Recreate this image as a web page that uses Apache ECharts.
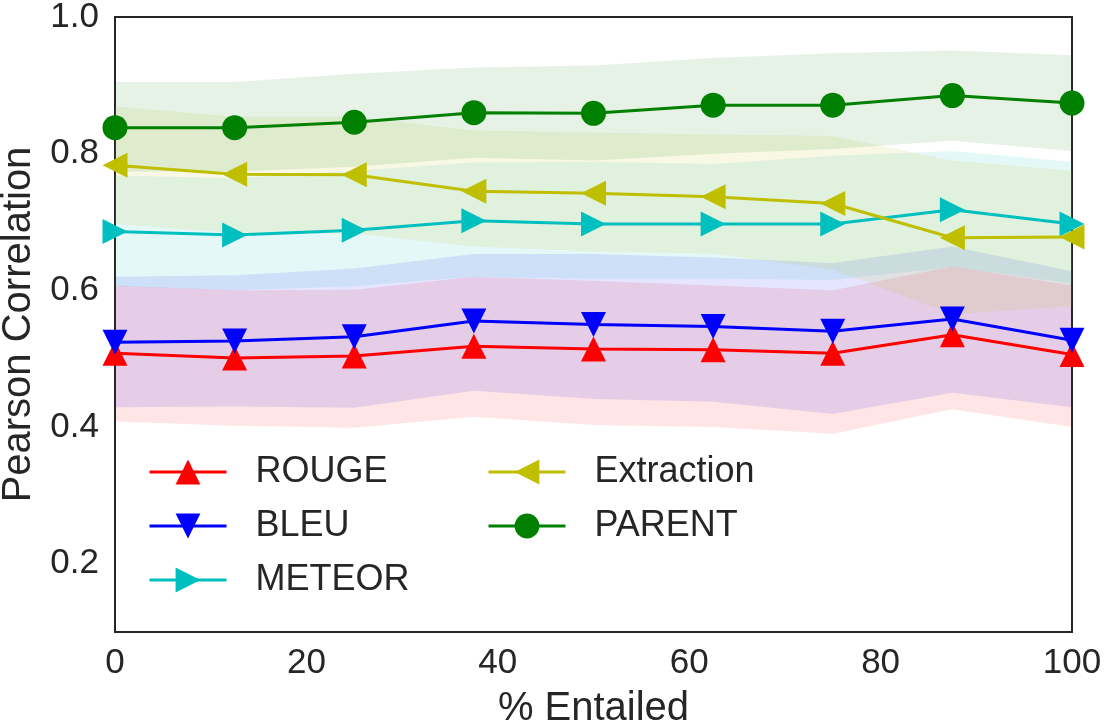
<!DOCTYPE html>
<html>
<head>
<meta charset="utf-8">
<script src="https://cdn.jsdelivr.net/npm/echarts@6/dist/echarts.min.js"></script>
<style>
  html, body { margin: 0; padding: 0; background: #fff; }
  #chart { width: 1112px; height: 726px; }
</style>
</head>
<body>
<div id="chart"></div>
<script>
// % entailed (x positions)
const xs = [0, 12.5, 25, 37.5, 50, 62.5, 75, 87.5, 100];

// mean correlation and the shaded band (upper / lower) per metric
const rouge = [0.508, 0.501, 0.504, 0.518, 0.514, 0.513, 0.508, 0.535, 0.506];
const rougeHi = [0.607, 0.600, 0.601, 0.620, 0.614, 0.607, 0.600, 0.635, 0.607];
const rougeLo = [0.408, 0.402, 0.399, 0.415, 0.403, 0.400, 0.390, 0.426, 0.400];

const bleu = [0.524, 0.526, 0.532, 0.555, 0.550, 0.547, 0.540, 0.558, 0.527];
const bleuHi = [0.620, 0.622, 0.632, 0.653, 0.653, 0.648, 0.640, 0.664, 0.628];
const bleuLo = [0.429, 0.430, 0.428, 0.453, 0.441, 0.437, 0.419, 0.450, 0.429];

const meteor = [0.686, 0.681, 0.688, 0.702, 0.697, 0.697, 0.697, 0.718, 0.697];
const meteorHi = [0.768, 0.764, 0.775, 0.787, 0.788, 0.785, 0.797, 0.804, 0.788];
const meteorLo = [0.606, 0.600, 0.606, 0.620, 0.617, 0.617, 0.615, 0.634, 0.610];

const extraction = [0.783, 0.770, 0.769, 0.745, 0.742, 0.737, 0.727, 0.677, 0.678];
const extractionHi = [0.869, 0.854, 0.854, 0.834, 0.831, 0.828, 0.826, 0.790, 0.775];
const extractionLo = [0.697, 0.684, 0.683, 0.664, 0.657, 0.654, 0.630, 0.565, 0.577];

const parent = [0.838, 0.838, 0.846, 0.860, 0.859, 0.871, 0.871, 0.885, 0.874];
const parentHi = [0.905, 0.905, 0.917, 0.926, 0.929, 0.940, 0.947, 0.951, 0.944];
const parentLo = [0.774, 0.774, 0.781, 0.794, 0.790, 0.800, 0.807, 0.819, 0.804];

const font = "'Liberation Sans', Arial, sans-serif";
const textColor = "#262626";

const metrics = [
  { name: "ROUGE", color: "#ff0000", fill: "rgba(255,0,0,0.1)", mean: rouge, hi: rougeHi, lo: rougeLo, symbol: "triangle", rotate: 0, size: 25 },
  { name: "BLEU", color: "#0000ff", fill: "rgba(0,0,255,0.1)", mean: bleu, hi: bleuHi, lo: bleuLo, symbol: "triangle", rotate: 180, size: 25 },
  { name: "METEOR", color: "#00bfbf", fill: "rgba(0,191,191,0.1)", mean: meteor, hi: meteorHi, lo: meteorLo, symbol: "triangle", rotate: -90, size: 25 },
  { name: "Extraction", color: "#bfbf00", fill: "rgba(191,191,0,0.1)", mean: extraction, hi: extractionHi, lo: extractionLo, symbol: "triangle", rotate: 90, size: 25 },
  { name: "PARENT", color: "#008000", fill: "rgba(0,128,0,0.1)", mean: parent, hi: parentHi, lo: parentLo, symbol: "circle", rotate: 0, size: 25 }
];

const bandSeries = metrics.map(m => ({
  type: "custom",
  silent: true,
  z: 1,
  data: [[0, 0]],
  renderItem: (params, api) => {
    const top = xs.map((x, i) => api.coord([x, m.hi[i]]));
    const bottom = xs.map((x, i) => api.coord([x, m.lo[i]])).reverse();
    return {
      type: "polygon",
      shape: { points: top.concat(bottom) },
      style: { fill: m.fill }
    };
  }
}));

const lineSeries = metrics.map((m, k) => ({
  name: m.name,
  type: "line",
  z: 3 + k,
  data: xs.map((x, i) => [x, m.mean[i]]),
  symbol: m.symbol,
  symbolSize: m.size,
  symbolRotate: m.rotate,
  showSymbol: true,
  lineStyle: { color: m.color, width: 3 },
  itemStyle: { color: m.color },
  emphasis: { disabled: true }
}));

const legendBase = {
  orient: "vertical",
  top: 454,
  padding: 0,
  itemWidth: 77,
  itemHeight: 31,
  itemGap: 18,
  lineStyle: { width: 3 },
  textStyle: { fontSize: 36, color: textColor, fontFamily: font, lineHeight: 36, padding: [0, 0, 0, 24] }
};

const chart = echarts.init(document.getElementById("chart"));
chart.setOption({
  animation: false,
  backgroundColor: "#fff",
  grid: {
    left: 115,
    right: 40,
    top: 17,
    bottom: 94,
    outerBoundsMode: "none",
    containLabel: false,
    show: true,
    borderColor: "#262626",
    borderWidth: 2,
    backgroundColor: "transparent"
  },
  legend: [
    Object.assign({}, legendBase, { left: 148, data: ["ROUGE", "BLEU", "METEOR"] }),
    Object.assign({}, legendBase, { left: 487, data: ["Extraction", "PARENT"] })
  ],
  xAxis: {
    type: "value",
    min: 0,
    max: 100,
    interval: 20,
    name: "% Entailed",
    nameLocation: "middle",
    nameGap: 57,
    nameTextStyle: { fontSize: 40, color: textColor, fontFamily: font },
    axisLine: { show: false },
    axisTick: { show: false },
    splitLine: { show: false },
    axisLabel: { fontSize: 35, color: textColor, fontFamily: font, margin: 14 }
  },
  yAxis: {
    type: "value",
    min: 0.1,
    max: 1.0,
    interval: 0.1,
    name: "Pearson Correlation",
    nameLocation: "middle",
    nameGap: 76,
    nameTextStyle: { fontSize: 40, color: textColor, fontFamily: font },
    axisLine: { show: false },
    axisTick: { show: false },
    splitLine: { show: false },
    axisLabel: {
      fontSize: 35,
      color: textColor,
      fontFamily: font,
      margin: 16,
      formatter: v => (Math.round(v * 10) % 2 === 0 ? v.toFixed(1) : "")
    }
  },
  series: bandSeries.concat(lineSeries)
});
</script>
</body>
</html>
